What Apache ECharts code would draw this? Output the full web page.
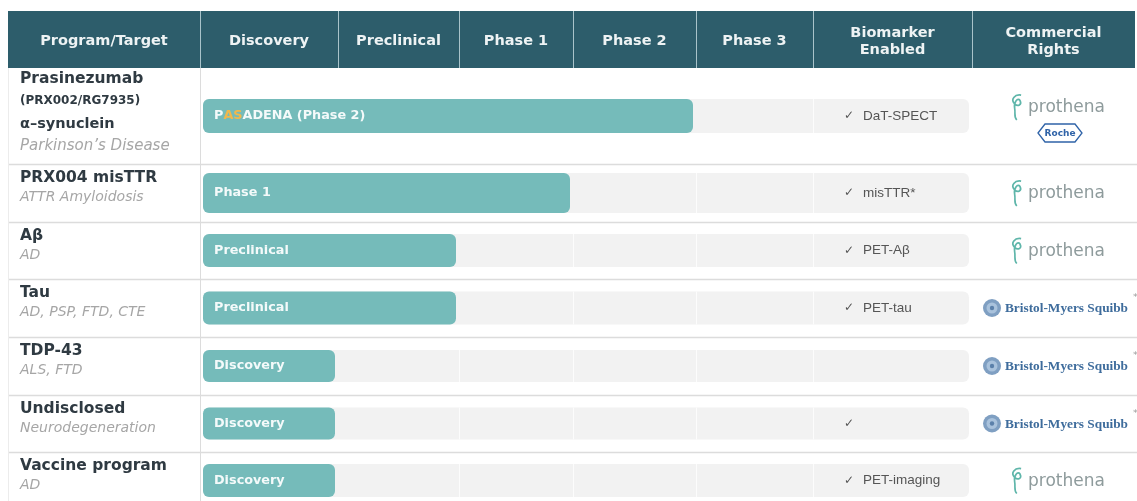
<!DOCTYPE html>
<html><head><meta charset="utf-8">
<script src="https://cdn.jsdelivr.net/npm/echarts@6/dist/echarts.min.js"></script>
<style>html,body{margin:0;padding:0;background:#fff}#c{width:1137px;height:501px}</style>
</head><body><div id="c"></div>
<script>
// ---------- data ----------
const headers = ['Program/Target','Discovery','Preclinical','Phase 1','Phase 2','Phase 3','Biomarker\nEnabled','Commercial\nRights'];
const programs = ['Prasinezumab','PRX004 misTTR','Aβ','Tau','TDP-43','Undisclosed','Vaccine program'];
const programDetails = [['(PRX002/RG7935)','α–synuclein'],[],[],[],[],[],[]];
const indications = ["Parkinson’s Disease",'ATTR Amyloidosis','AD','AD, PSP, FTD, CTE','ALS, FTD','Neurodegeneration','AD'];
// stage reached: 1 = Discovery, 2 = Preclinical, 3 = Phase 1, 4 = Phase 2, 5 = Phase 3
const stageReached = [4,3,2,2,1,1,1];
const barLabels = ['PASADENA (Phase 2)','Phase 1','Preclinical','Preclinical','Discovery','Discovery','Discovery'];
const labelHighlight = [[1,3],null,null,null,null,null,null];
const biomarkers = ['DaT-SPECT','misTTR*','PET-Aβ','PET-tau',null,'','PET-imaging'];
const partners = [['prothena','roche'],['prothena'],['prothena'],['bms'],['bms'],['bms'],['prothena']];
const partnerNotes = ['','','','**','*','*',''];

// ---------- layout (axis units = pixels inside the grid) ----------
const COL = [0,192,330,451,565,688,805,964,1127];
const HEAD = [0,57];
const ROW = [57,153,211,268,326,384,441,498];
const BAR_H = [34,40,33,33,32,32,33];

const HEADER_BG = '#2d5d6b';
const BAR_COLOR = '#75bbba';
const TRACK = '#f2f2f2';
const LINE = '#dcdcdc';
const F = '"DejaVu Sans", sans-serif';

function box(api,x0,y0,x1,y1){const a=api.coord([x0,y0]),b=api.coord([x1,y1]);return {x:a[0],y:a[1],width:b[0]-a[0],height:b[1]-a[1]};}
function pt(api,x,y){return api.coord([x,y]);}
const mid = i => (ROW[i]+ROW[i+1])/2;

const headerSeries = {
  type:'custom', data: headers.map((h,i)=>[i]), silent:true,
  renderItem(params, api){
    const i = api.value(0);
    const r = box(api, COL[i], HEAD[0], COL[i+1], HEAD[1]);
    const c = pt(api, (COL[i]+COL[i+1])/2, (HEAD[0]+HEAD[1])/2);
    const ch = [
      {type:'rect', shape:r, style:{fill:HEADER_BG}},
      {type:'text', style:{text:headers[i], x:c[0], y:c[1]+2, align:'center', verticalAlign:'middle',
        fill:'#eef3f4', fontFamily:F, fontWeight:'bold', fontSize:14.5, lineHeight:17}}
    ];
    if (i>0) ch.push({type:'line', shape:{x1:r.x+0.5,y1:r.y,x2:r.x+0.5,y2:r.y+r.height}, style:{stroke:'#a9c3ca', lineWidth:1}});
    return {type:'group', children:ch};
  }
};

const gridSeries = {
  type:'custom', data:[[0]], silent:true,
  renderItem(params, api){
    const ch = [];
    for (let i=1;i<ROW.length-1;i++){
      const a = pt(api, 0, ROW[i]), b = pt(api, 1129, ROW[i]);
      ch.push({type:'line', shape:{x1:a[0],y1:Math.round(a[1])+0.5,x2:b[0],y2:Math.round(b[1])+0.5}, style:{stroke:LINE, lineWidth:1.5}});
    }
    const v0 = pt(api, COL[1], ROW[0]), v1 = pt(api, COL[1], ROW[ROW.length-1]);
    ch.push({type:'line', shape:{x1:v0[0]+0.5,y1:v0[1],x2:v1[0]+0.5,y2:v1[1]}, style:{stroke:LINE, lineWidth:1}});
    const l0 = pt(api, 0, ROW[0]), l1 = pt(api, 0, ROW[ROW.length-1]);
    ch.push({type:'line', shape:{x1:l0[0]+0.5,y1:l0[1],x2:l1[0]+0.5,y2:l1[1]}, style:{stroke:'#ececec', lineWidth:1}});
    return {type:'group', children:ch};
  }
};

const trackSeries = {
  type:'custom', data: programs.map((p,i)=>[i, stageReached[i]]), silent:true,
  renderItem(params, api){
    const i = api.value(0), s = api.value(1);
    const h = BAR_H[i], m = mid(i);
    const r = box(api, COL[1]+3, m-h/2, COL[7]-3, m+h/2);
    const ch = [{type:'rect', shape:Object.assign({r:6}, r), style:{fill:TRACK}}];
    for (let k=s+2;k<=6;k++){
      const a = pt(api, COL[k], m-h/2), b = pt(api, COL[k], m+h/2);
      const x = Math.round(a[0])+0.5;
      ch.push({type:'line', shape:{x1:x,y1:a[1],x2:x,y2:b[1]}, style:{stroke:'#fcfcfc', lineWidth:1}});
    }
    return {type:'group', children:ch};
  }
};

const barSeries = {
  type:'custom', data: programs.map((p,i)=>[i, stageReached[i]]), silent:true,
  renderItem(params, api){
    const i = api.value(0), s = api.value(1);
    const h = BAR_H[i], m = mid(i);
    const r = box(api, COL[1]+3, m-h/2, COL[s+1]-3, m+h/2);
    const c = pt(api, COL[1]+14, m);
    const t = barLabels[i], hl = labelHighlight[i];
    let text = '{w|'+t+'}';
    if (hl) text = '{w|'+t.slice(0,hl[0])+'}{o|'+t.slice(hl[0],hl[1])+'}{w|'+t.slice(hl[1])+'}';
    return {type:'group', children:[
      {type:'rect', shape:Object.assign({r:6}, r), style:{fill:BAR_COLOR}},
      {type:'text', style:{text, x:c[0], y:c[1], align:'left', verticalAlign:'middle',
        rich:{w:{fill:'#f4fafa', fontFamily:F, fontWeight:'bold', fontSize:12.8},
              o:{fill:'#f2b84b', fontFamily:F, fontWeight:'bold', fontSize:12.8}}}}
    ]};
  }
};

const labelSeries = {
  type:'custom', data: programs.map((p,i)=>[i]), silent:true,
  renderItem(params, api){
    const i = api.value(0);
    const ch = [];
    const x = pt(api, 12, 0)[0];
    const add = (text, yy, size, bold, italic, color) => {
      const p = pt(api, 12, yy);
      ch.push({type:'text', style:{text, x, y:p[1], align:'left', verticalAlign:'middle', fill:color,
        fontFamily:F, fontSize:size, fontWeight:bold?'bold':'normal', fontStyle:italic?'italic':'normal'}});
    };
    if (programDetails[i].length){
      add(programs[i], ROW[i]+11, 15.5, true, false, '#2f3a42');
      add(programDetails[i][0], ROW[i]+33, 12, true, false, '#2f3a42');
      add(programDetails[i][1], ROW[i]+56, 14.5, true, false, '#2f3a42');
      add(indications[i], ROW[i]+78, 15, false, true, '#a6a6a6');
    } else {
      add(programs[i], ROW[i]+14, 15.5, true, false, '#2f3a42');
      add(indications[i], ROW[i]+33, 14, false, true, '#a6a6a6');
    }
    return {type:'group', children:ch};
  }
};

const biomarkerSeries = {
  type:'custom', data: programs.map((p,i)=>[i]), silent:true,
  renderItem(params, api){
    const i = api.value(0), b = biomarkers[i];
    if (b === null) return {type:'group', children:[]};
    const c = pt(api, 836, mid(i));
    return {type:'group', children:[
      {type:'text', style:{text:'✓', x:c[0], y:c[1], align:'left', verticalAlign:'middle', fill:'#555', fontFamily:F, fontSize:12}},
      {type:'text', style:{text:b, x:c[0]+19, y:c[1], align:'left', verticalAlign:'middle', fill:'#555', fontFamily:'"Liberation Sans", Arial, sans-serif', fontSize:13.5}}
    ]};
  }
};

function prothena(cx, cy){
  return [
    {type:'path', shape:{pathData:'M10 1 C4 0 0 5 4 9 C7 12 11 10 9 6 C7 3 3 7 4 13 C5 18 3 21 6 24', x:cx-37, y:cy-12, width:12, height:25},
      style:{stroke:'#5fb6aa', fill:null, lineWidth:1.7}},
    {type:'text', style:{text:'prothena', x:cx-20, y:cy+1, align:'left', verticalAlign:'middle', fill:'#8e9b9c', fontFamily:F, fontSize:17}}
  ];
}
function roche(cx, cy){
  const w = 22, h = 9;
  return [
    {type:'polygon', shape:{points:[[cx-w,cy],[cx-w+7,cy-h],[cx+w-7,cy-h],[cx+w,cy],[cx+w-7,cy+h],[cx-w+7,cy+h]]}, style:{stroke:'#2f63a8', fill:'#fff', lineWidth:1.3}},
    {type:'text', style:{text:'Roche', x:cx, y:cy+0.5, align:'center', verticalAlign:'middle', fill:'#2f63a8', fontFamily:F, fontWeight:'bold', fontSize:9}}
  ];
}
function bms(x, cy, note){
  return [
    {type:'circle', shape:{cx:x+12, cy, r:9}, style:{fill:'#7f9fc2'}},
    {type:'circle', shape:{cx:x+12, cy, r:5.5}, style:{fill:'#a9c2dc'}},
    {type:'circle', shape:{cx:x+12, cy, r:2.2}, style:{fill:'#5b80aa'}},
    {type:'text', style:{text:'Bristol-Myers Squibb', x:x+25, y:cy+1, align:'left', verticalAlign:'middle', fill:'#3e6c9c', fontFamily:'"Liberation Serif", "DejaVu Serif", serif', fontWeight:'bold', fontSize:13.3}},
    {type:'text', style:{text:note, x:x+153, y:cy-10, align:'left', verticalAlign:'middle', fill:'#9a9a9a', fontFamily:F, fontSize:9}}
  ];
}

const rightsSeries = {
  type:'custom', data: programs.map((p,i)=>[i]), silent:true,
  renderItem(params, api){
    const i = api.value(0), ps = partners[i];
    const m = mid(i);
    let ch = [];
    if (ps[0]==='prothena'){
      const off = ps.length>1 ? -9 : 0;
      const c = pt(api, 1040, m+off);
      ch = ch.concat(prothena(c[0], c[1]));
      if (ps[1]==='roche'){ const r = pt(api, 1052, m+17); ch = ch.concat(roche(r[0], r[1])); }
    } else if (ps[0]==='bms'){
      const c = pt(api, 972, m);
      ch = ch.concat(bms(c[0], c[1], partnerNotes[i]));
    }
    return {type:'group', children:ch};
  }
};

const chart = echarts.init(document.getElementById('c'), null, {renderer:'canvas'});
chart.setOption({
  animation:false,
  backgroundColor:'#ffffff',
  grid:{left:8, right:0, top:11, bottom:0, containLabel:false},
  xAxis:{type:'value', min:0, max:1129, show:false},
  yAxis:{type:'value', min:0, max:490, inverse:true, show:false},
  series:[gridSeries, headerSeries, trackSeries, barSeries, labelSeries, biomarkerSeries, rightsSeries]
});
</script></body></html>
